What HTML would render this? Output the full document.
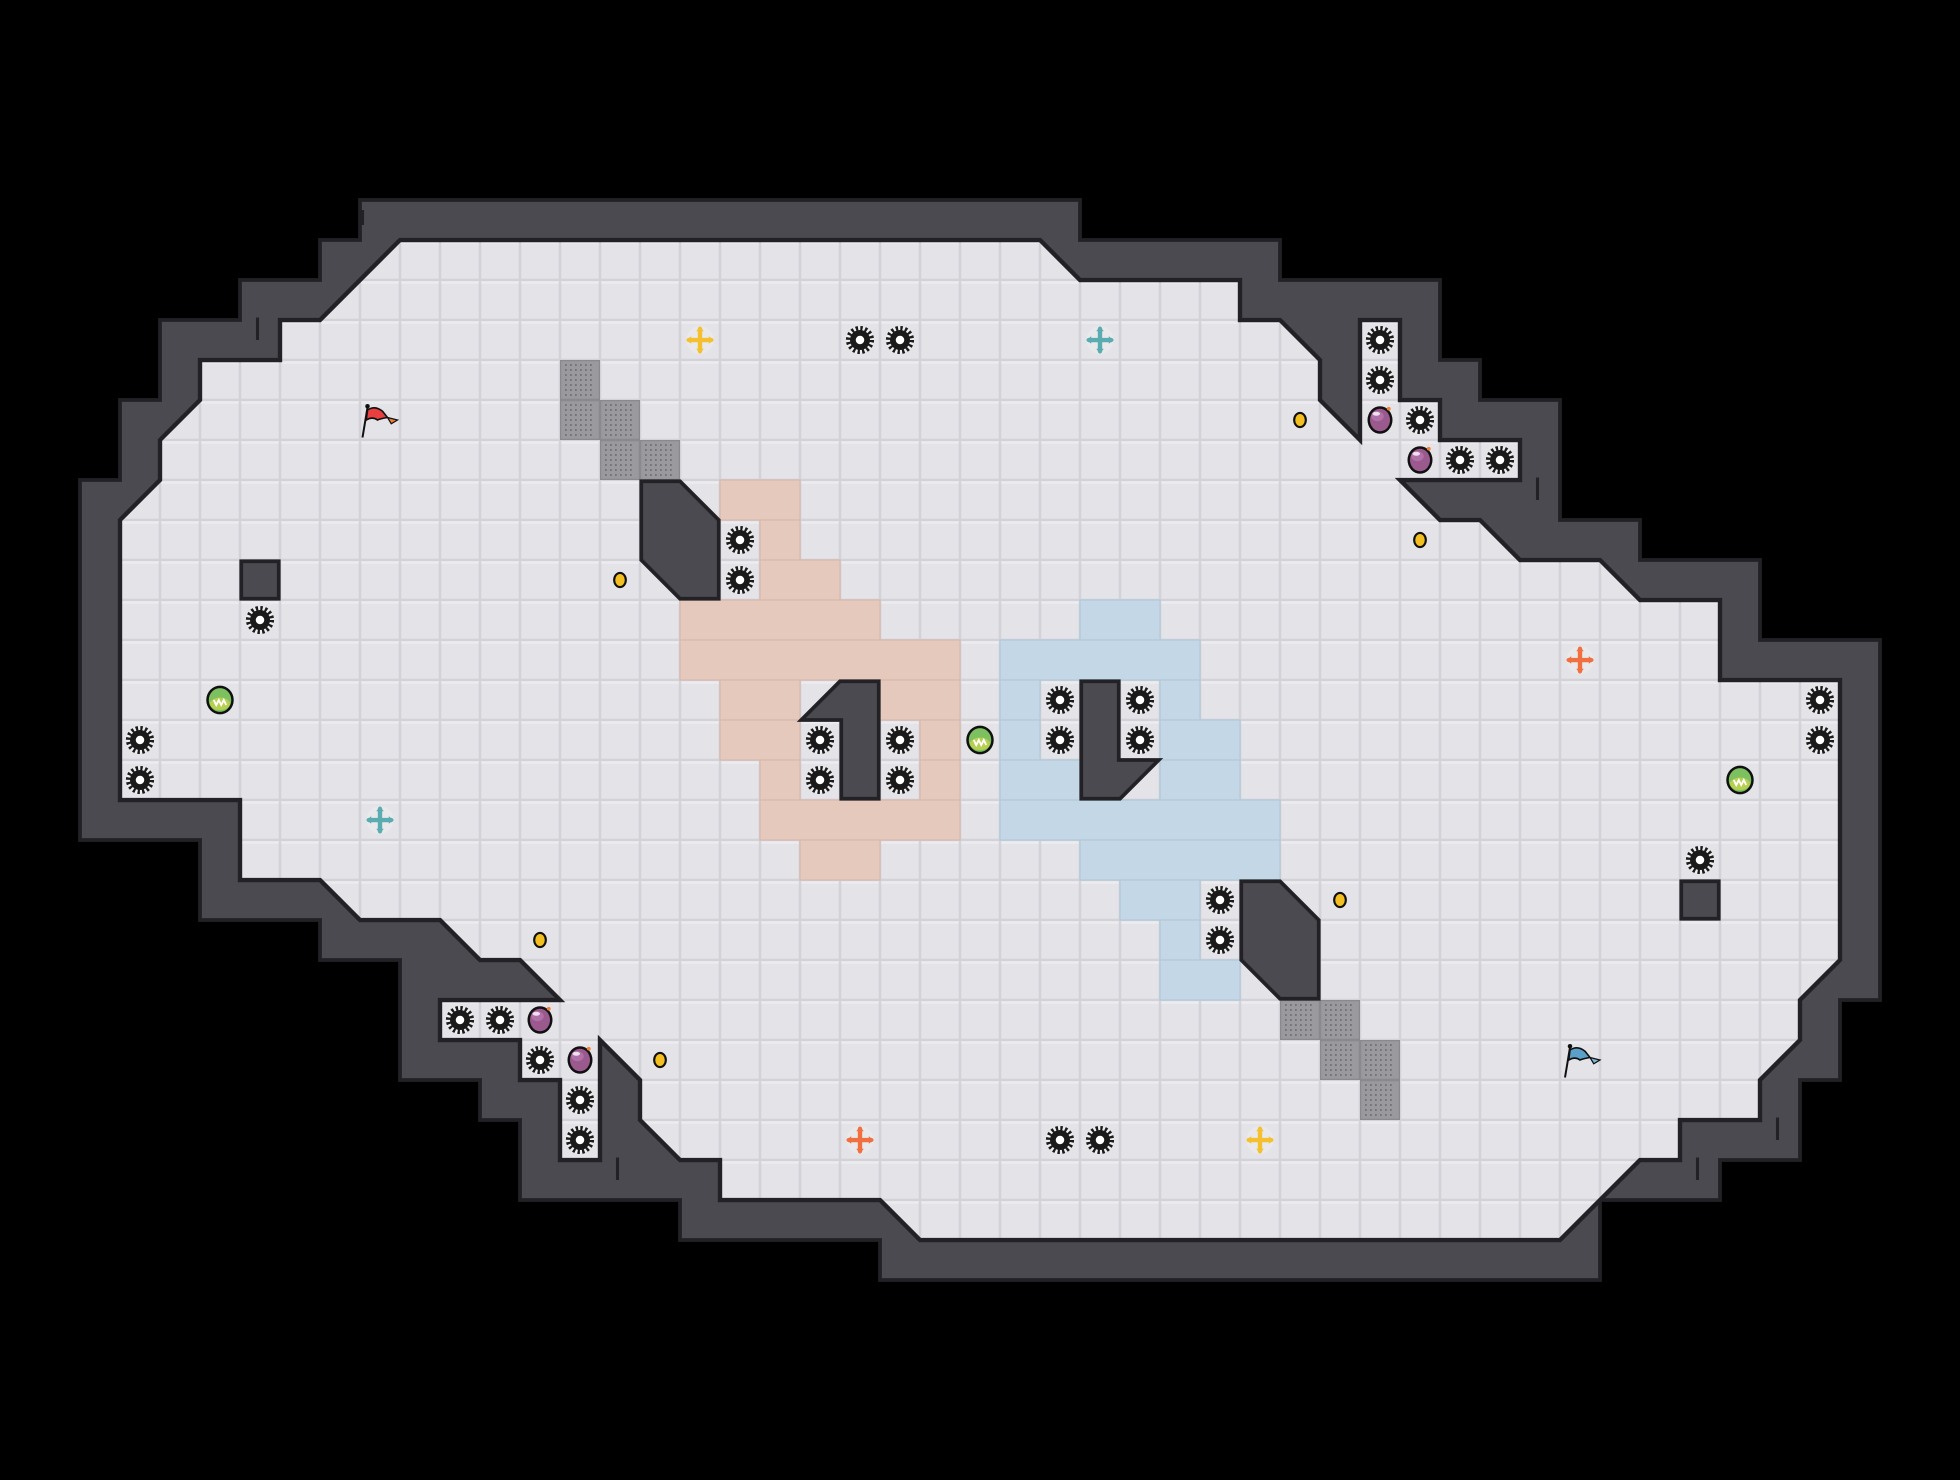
<!DOCTYPE html>
<html><head><meta charset="utf-8"><style>
html,body{margin:0;padding:0;background:#000;}
svg{display:block;}
</style></head><body>
<svg width="1960" height="1480" viewBox="0 0 1568 1184" xmlns="http://www.w3.org/2000/svg">
<defs>
<pattern id="tile" x="0" y="0" width="32" height="32" patternUnits="userSpaceOnUse">
<rect width="32" height="32" fill="#d2d2d7"/>
<rect x="1" y="1" width="30" height="30" fill="#e3e3e8"/>
<rect x="1" y="1" width="30" height="2" fill="#ececf0"/>
</pattern>
<g id="spk">
<circle r="11" fill="#eeeef1"/>
<circle r="8" fill="#1a1a1a"/>
<circle r="9.5" fill="none" stroke="#1a1a1a" stroke-width="3.5" stroke-dasharray="1.9 1.83"/>
<circle r="3.4" fill="#fff"/>
</g>
<g id="bomb">
<ellipse rx="10" ry="11" fill="#111"/>
<ellipse rx="8" ry="9" fill="#9a5a8e"/>
<ellipse cx="-2" cy="-3" rx="5" ry="4" fill="#b070a8"/>
<ellipse cx="-3" cy="-5" rx="3" ry="1.6" fill="#f0e0f0"/>
<circle cx="7" cy="-9" r="1.5" fill="#f08030"/>
</g>
<g id="orb">
<ellipse rx="11" ry="11.5" fill="#111"/>
<ellipse rx="9" ry="9.5" fill="#7cc060"/>
<ellipse cy="3" rx="8" ry="5" fill="#b8d050"/>
<path d="M-5 0 l2 4 l2-4 l2 4 l2-4 l2 4" fill="none" stroke="#fff" stroke-width="1.5"/>
</g>
<g id="coin">
<ellipse rx="5.5" ry="6.5" fill="#111"/>
<ellipse rx="3.8" ry="4.8" fill="#f4c020"/>
</g>
<pattern id="mesh" width="32" height="32" patternUnits="userSpaceOnUse">
<rect width="32" height="32" fill="#8a8a8e"/>
<rect x="1" y="1" width="30" height="30" fill="#9a9a9e"/>
<path d="M4 4h24M4 8h24M4 12h24M4 16h24M4 20h24M4 24h24M4 28h24" stroke="#707074" stroke-width="1.4" stroke-dasharray="1.4 2.6"/>
</pattern>
</defs>

<!-- outer walls -->
<polygon fill="#4b4a50" stroke="#222226" stroke-width="3" points="288,160 864,160 864,192 1024,192 1024,224 1152,224 1152,288 1184,288 1184,320 1248,320 1248,416 1312,416 1312,448 1408,448 1408,512 1504,512 1504,800 1472,800 1472,864 1440,864 1440,928 1376,928 1376,960 1280,960 1280,1024 704,1024 704,992 544,992 544,960 416,960 416,896 384,896 384,864 320,864 320,768 256,768 256,736 160,736 160,672 64,672 64,384 96,384 96,320 128,320 128,256 192,256 192,224 256,224 256,192 288,192"/>

<!-- floor -->
<polygon fill="url(#tile)" stroke="#222226" stroke-width="3.5" stroke-linejoin="miter" points="320,192 832,192 864,224 992,224 992,256 1024,256 1056,288 1056,320 1088,352 1088,256 1120,256 1120,320 1152,320 1152,352 1216,352 1216,384 1120,384 1152,416 1184,416 1216,448 1280,448 1312,480 1376,480 1376,544 1472,544 1472,768 1440,800 1440,832 1408,864 1408,896 1344,896 1344,928 1312,928 1248,992 736,992 704,960 576,960 576,928 544,928 512,896 512,864 480,832 480,928 448,928 448,864 416,864 416,832 352,832 352,800 448,800 416,768 384,768 352,736 288,736 256,704 192,704 192,640 96,640 96,416 128,384 128,352 160,320 160,288 224,288 224,256 256,256"/>

<!-- wall ticks -->
<g stroke="#222226" stroke-width="2.5">
<line x1="206" y1="254" x2="206" y2="272"/><line x1="290" y1="168" x2="290" y2="180"/>
<line x1="1230" y1="382" x2="1230" y2="400"/><line x1="1422" y1="894" x2="1422" y2="912"/>
<line x1="1358" y1="926" x2="1358" y2="944"/><line x1="494" y1="926" x2="494" y2="944"/>
</g>

<!-- salmon tiles -->
<g fill="#e6c9bd" stroke="#d8b9ad" stroke-width="1">
<rect x="576" y="384" width="64" height="32"/>
<rect x="608" y="416" width="32" height="32"/>
<rect x="608" y="448" width="64" height="32"/>
<rect x="544" y="480" width="160" height="32"/>
<rect x="544" y="512" width="224" height="32"/>
<rect x="576" y="544" width="64" height="32"/><rect x="704" y="544" width="64" height="32"/>
<rect x="576" y="576" width="64" height="32"/><rect x="736" y="576" width="32" height="32"/>
<rect x="608" y="608" width="32" height="32"/><rect x="736" y="608" width="32" height="32"/>
<rect x="608" y="640" width="160" height="32"/>
<rect x="640" y="672" width="64" height="32"/>
</g>
<!-- blue tiles -->
<g fill="#c3d7e6" stroke="#b3c8d8" stroke-width="1">
<rect x="864" y="480" width="64" height="32"/>
<rect x="800" y="512" width="160" height="32"/>
<rect x="800" y="544" width="32" height="32"/><rect x="928" y="544" width="32" height="32"/>
<rect x="800" y="576" width="32" height="32"/><rect x="928" y="576" width="64" height="32"/>
<rect x="800" y="608" width="64" height="32"/><rect x="928" y="608" width="64" height="32"/>
<rect x="800" y="640" width="224" height="32"/>
<rect x="864" y="672" width="160" height="32"/>
<rect x="896" y="704" width="64" height="32"/>
<rect x="928" y="736" width="32" height="32"/>
<rect x="928" y="768" width="64" height="32"/>
</g>

<!-- mesh blocks -->
<g fill="url(#mesh)">
<rect x="448" y="288" width="32" height="32"/><rect x="448" y="320" width="32" height="32"/><rect x="480" y="320" width="32" height="32"/>
<rect x="480" y="352" width="32" height="32"/><rect x="512" y="352" width="32" height="32"/>
<rect x="1024" y="800" width="32" height="32"/><rect x="1056" y="800" width="32" height="32"/><rect x="1056" y="832" width="32" height="32"/>
<rect x="1088" y="832" width="32" height="32"/><rect x="1088" y="864" width="32" height="32"/>
</g>

<!-- interior walls -->
<g fill="#4b4a50" stroke="#222226" stroke-width="3">
<rect x="193" y="449" width="30" height="30"/>
<rect x="1345" y="705" width="30" height="30"/>
<polygon points="513,385 544,385 575,416 575,479 544,479 513,448"/>
<polygon points="672,545 703,545 703,639 673,639 673,576 641,576"/>
<polygon points="865,545 895,545 895,608 927,608 896,639 865,639"/>
<polygon points="993,705 1024,705 1055,736 1055,799 1024,799 993,768"/>
</g>

<!-- spikes -->
<g>
<use href="#spk" x="688" y="272"/><use href="#spk" x="720" y="272"/>
<use href="#spk" x="1104" y="272"/><use href="#spk" x="1104" y="304"/>
<use href="#spk" x="1136" y="336"/><use href="#spk" x="1168" y="368"/><use href="#spk" x="1200" y="368"/>
<use href="#spk" x="592" y="432"/><use href="#spk" x="592" y="464"/>
<use href="#spk" x="208" y="496"/><use href="#spk" x="112" y="592"/><use href="#spk" x="112" y="624"/>
<use href="#spk" x="848" y="560"/><use href="#spk" x="912" y="560"/><use href="#spk" x="848" y="592"/><use href="#spk" x="912" y="592"/>
<use href="#spk" x="656" y="592"/><use href="#spk" x="720" y="592"/><use href="#spk" x="656" y="624"/><use href="#spk" x="720" y="624"/>
<use href="#spk" x="1456" y="560"/><use href="#spk" x="1456" y="592"/><use href="#spk" x="1360" y="688"/>
<use href="#spk" x="976" y="720"/><use href="#spk" x="976" y="752"/>
<use href="#spk" x="368" y="816"/><use href="#spk" x="400" y="816"/><use href="#spk" x="432" y="848"/>
<use href="#spk" x="464" y="880"/><use href="#spk" x="464" y="912"/>
<use href="#spk" x="848" y="912"/><use href="#spk" x="880" y="912"/>
</g>

<!-- bombs -->
<use href="#bomb" x="1104" y="336"/><use href="#bomb" x="1136" y="368"/>
<use href="#bomb" x="432" y="816"/><use href="#bomb" x="464" y="848"/>
<!-- orbs -->
<use href="#orb" x="176" y="560"/><use href="#orb" x="784" y="592"/><use href="#orb" x="1392" y="624"/>
<!-- coins -->
<use href="#coin" x="496" y="464"/><use href="#coin" x="1040" y="336"/><use href="#coin" x="1136" y="432"/>
<use href="#coin" x="1072" y="720"/><use href="#coin" x="432" y="752"/><use href="#coin" x="528" y="848"/>

<!-- crosses -->
<g stroke-linecap="round" stroke-width="3.5">
<g transform="translate(560,272)" stroke="#f5c030" fill="#f5c030"><circle r="11" fill="#e9e9ec" stroke="none"/><line x1="-9" x2="9"/><line y1="-9" y2="9"/><path d="M-11 0l4-3v6zM11 0l-4-3v6zM0 -11l-3 4h6zM0 11l-3-4h6z" stroke="none"/></g>
<g transform="translate(1008,912)" stroke="#f5c030" fill="#f5c030"><circle r="11" fill="#e9e9ec" stroke="none"/><line x1="-9" x2="9"/><line y1="-9" y2="9"/><path d="M-11 0l4-3v6zM11 0l-4-3v6zM0 -11l-3 4h6zM0 11l-3-4h6z" stroke="none"/></g>
<g transform="translate(880,272)" stroke="#5aacb0" fill="#5aacb0"><circle r="11" fill="#e9e9ec" stroke="none"/><line x1="-9" x2="9"/><line y1="-9" y2="9"/><path d="M-11 0l4-3v6zM11 0l-4-3v6zM0 -11l-3 4h6zM0 11l-3-4h6z" stroke="none"/></g>
<g transform="translate(304,656)" stroke="#5aacb0" fill="#5aacb0"><circle r="11" fill="#e9e9ec" stroke="none"/><line x1="-9" x2="9"/><line y1="-9" y2="9"/><path d="M-11 0l4-3v6zM11 0l-4-3v6zM0 -11l-3 4h6zM0 11l-3-4h6z" stroke="none"/></g>
<g transform="translate(1264,528)" stroke="#f07040" fill="#f07040"><circle r="11" fill="#e9e9ec" stroke="none"/><line x1="-9" x2="9"/><line y1="-9" y2="9"/><path d="M-11 0l4-3v6zM11 0l-4-3v6zM0 -11l-3 4h6zM0 11l-3-4h6z" stroke="none"/></g>
<g transform="translate(688,912)" stroke="#f07040" fill="#f07040"><circle r="11" fill="#e9e9ec" stroke="none"/><line x1="-9" x2="9"/><line y1="-9" y2="9"/><path d="M-11 0l4-3v6zM11 0l-4-3v6zM0 -11l-3 4h6zM0 11l-3-4h6z" stroke="none"/></g>
</g>

<!-- flags -->
<g transform="translate(290,350)">
<line x1="0" y1="0" x2="4" y2="-24" stroke="#111" stroke-width="1.6"/>
<circle cx="4" cy="-25" r="1.8" fill="#111"/>
<path d="M4 -22 q6 -4 12 1 l4 5 q-6 1 -8 2 q-4 -3 -9 0z" fill="#e84040" stroke="#111" stroke-width="1.3"/>
<path d="M20 -16 l8 2 -5 3z" fill="#f08030" stroke="#111" stroke-width="1"/>
</g>
<g transform="translate(1252,862)">
<line x1="0" y1="0" x2="4" y2="-24" stroke="#111" stroke-width="1.6"/>
<circle cx="4" cy="-25" r="1.8" fill="#111"/>
<path d="M4 -22 q6 -4 12 1 l4 5 q-6 1 -8 2 q-4 -3 -9 0z" fill="#5aa0c8" stroke="#111" stroke-width="1.3"/>
<path d="M20 -16 l8 2 -5 3z" fill="#7ab8d8" stroke="#111" stroke-width="1"/>
</g>
</svg>
</body></html>
